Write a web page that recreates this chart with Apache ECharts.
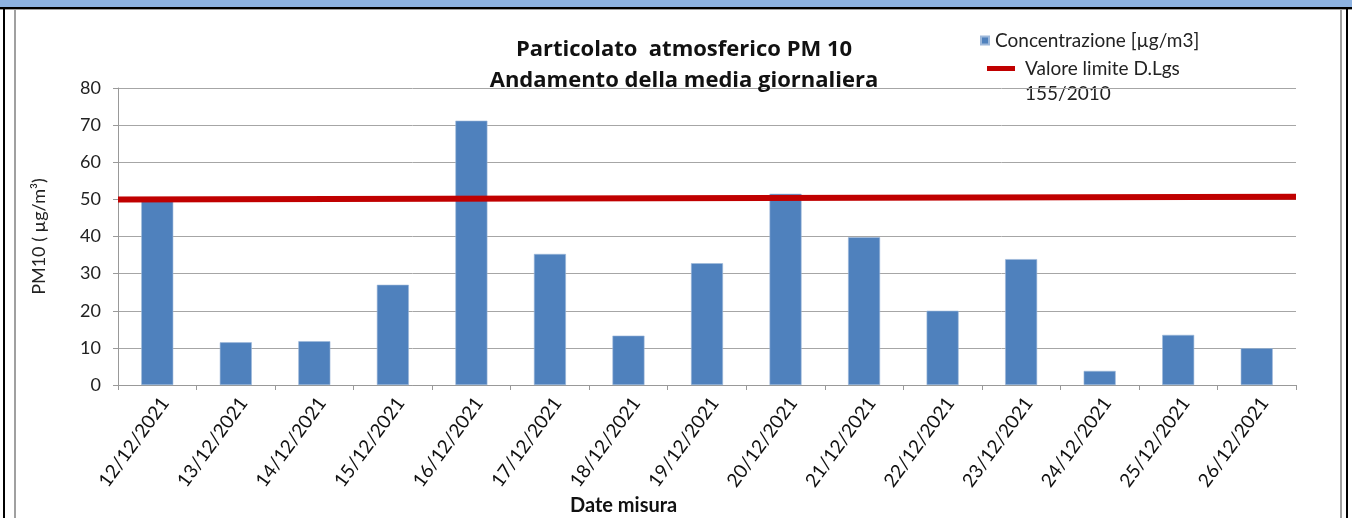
<!DOCTYPE html>
<html>
<head>
<meta charset="utf-8">
<script src="https://cdn.jsdelivr.net/npm/echarts@6/dist/echarts.min.js"></script>
<style>
html,body{margin:0;padding:0;background:#fff;}
#c{width:1352px;height:518px;}
</style>
</head>
<body>
<div id="c"></div>
<script>
const categories = ['12/12/2021','13/12/2021','14/12/2021','15/12/2021','16/12/2021','17/12/2021','18/12/2021','19/12/2021','20/12/2021','21/12/2021','22/12/2021','23/12/2021','24/12/2021','25/12/2021','26/12/2021'];
const concentrazione = [49.5, 11.5, 11.8, 27.0, 71.2, 35.3, 13.3, 32.8, 51.5, 39.8, 20.0, 33.9, 3.8, 13.5, 9.9];
const limiteStart = 50;
const limiteEnd = 50.7;
const limite = [[0, limiteStart], [1, limiteEnd]];
const yTicks = [0, 10, 20, 30, 40, 50, 60, 70, 80];

const FONT = 'Lato, "Open Sans", sans-serif';
const chart = echarts.init(document.getElementById('c'), null, {renderer: 'canvas'});
chart.setOption({
  animation: false,
  backgroundColor: '#fff',
  textStyle: {fontFamily: FONT},
  title: {
    text: 'Particolato  atmosferico PM 10\nAndamento della media giornaliera',
    left: 679, top: 29, textAlign: 'center',
    textStyle: {fontFamily: '"Open Sans", sans-serif', fontSize: 22, fontWeight: 'bold', color: '#111', lineHeight: 31}
  },
  legend: [
    {
      data: ['Concentrazione [µg/m3]'],
      left: 975, top: 26, icon: 'rect', itemWidth: 8, itemHeight: 8, itemGap: 8,
      textStyle: {fontFamily: FONT, fontSize: 19, color: '#222', padding: [0,0,0,1]}
    },
    {
      data: ['Valore limite D.Lgs 155/2010'],
      left: 982, top: 54, icon: 'rect', itemWidth: 28, itemHeight: 5, itemGap: 14,
      formatter: () => 'Valore limite D.Lgs',
      textStyle: {fontFamily: FONT, fontSize: 19, color: '#222', padding: [0,0,0,5]}
    }
  ],
  grid: {left: 118, right: 56, top: 88, bottom: 133},
  xAxis: [
    {
      type: 'category', data: categories, boundaryGap: true,
      axisLine: {lineStyle: {color: '#999', width: 1}},
      axisTick: {show: true, length: 5, lineStyle: {color: '#999'}},
      axisLabel: {rotate: 54, fontFamily: FONT, fontSize: 19, color: '#111', margin: 9, interval: 0, verticalAlign: 'top'}
    },
    {type: 'value', min: 0, max: 1, show: false}
  ],
  yAxis: {
    type: 'value', min: 0, max: 80, interval: 10,
    axisLine: {show: true, lineStyle: {color: '#999'}},
    axisTick: {show: true, length: 5, lineStyle: {color: '#999'}},
    axisLabel: {fontFamily: FONT, fontSize: 18, color: '#222', margin: 17,
      formatter: v => yTicks.includes(v) ? String(v) : ''},
    splitLine: {lineStyle: {color: '#A6A6A6', width: 1}},
    name: 'PM10 ( µg/m³)', nameLocation: 'middle', nameGap: 70,
    nameTextStyle: {fontFamily: FONT, fontSize: 18, color: '#222'}
  },
  series: [
    {
      name: 'Concentrazione [µg/m3]', type: 'bar', data: concentrazione,
      barWidth: 32, itemStyle: {color: '#4F81BD', borderColor: '#9DB8DA', borderWidth: 0.6}, z: 2
    },
    {
      name: 'Valore limite D.Lgs 155/2010', type: 'line', xAxisIndex: 1, data: limite,
      symbol: 'none', lineStyle: {color: '#C00000', width: 6}, itemStyle: {color: '#C00000'}, z: 5
    }
  ],
  graphic: [
    {type: 'rect', left: 0, top: 0, shape: {width: 1352, height: 7}, style: {fill: '#8DB3E2'}, silent: true},
    {type: 'rect', left: 0, top: 7, shape: {width: 1352, height: 2}, style: {fill: '#000'}, silent: true},
    {type: 'rect', left: 0, top: 9, shape: {width: 1352, height: 1}, style: {fill: '#A0A0A0'}, silent: true},
    {type: 'rect', left: 3, top: 7, shape: {width: 2, height: 511}, style: {fill: '#000'}, silent: true},
    {type: 'rect', left: 14, top: 9, shape: {width: 2, height: 509}, style: {fill: '#A0A0A0'}, silent: true},
    {type: 'rect', left: 1340, top: 9, shape: {width: 2, height: 509}, style: {fill: '#A0A0A0'}, silent: true},
    {type: 'rect', left: 1346, top: 7, shape: {width: 2, height: 511}, style: {fill: '#000'}, silent: true},
    {type: 'text', left: 1025, top: 84, style: {text: '155/2010', fontFamily: FONT, fontSize: 19, fill: '#222'}},
    {type: 'text', left: 570, top: 496, style: {text: 'Date misura', fontFamily: FONT, fontSize: 20, fontWeight: 'bold', fill: '#111'}}
  ]
});
</script>
</body>
</html>
